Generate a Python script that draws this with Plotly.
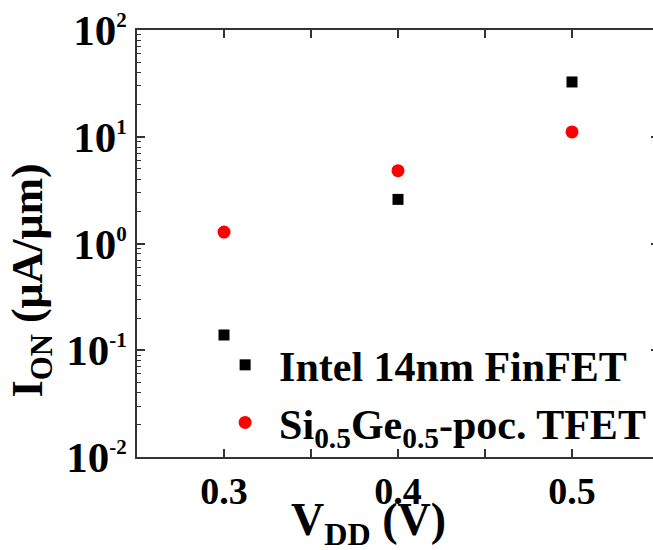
import plotly.graph_objects as go

vdd = [0.3, 0.4, 0.5]
intel_ion = [0.139, 2.59, 32.6]
tfet_ion = [1.28, 4.81, 11.1]

intel_name = "Intel 14nm FinFET"
tfet_name = "Si<sub>0.5</sub>Ge<sub>0.5</sub>-poc. TFET"

x_tickvals = [0.3, 0.35, 0.4, 0.45, 0.5]
x_ticktext = ["0.3", "", "0.4", "", "0.5"]
y_tickvals = [0.01, 0.1, 1, 10, 100]
y_exps = ["-2", "-1", "0", "1", "2"]
y_ticktext = ["10<sup><span style='font-size:21px'>%s</span></sup>" % e for e in y_exps]

FONT = "Liberation Serif"
AX = "#333333"

fig = go.Figure()
fig.add_trace(go.Scatter(x=vdd, y=intel_ion, mode="markers", name=intel_name,
                         marker=dict(symbol="square", size=11, color="black")))
fig.add_trace(go.Scatter(x=vdd, y=tfet_ion, mode="markers", name=tfet_name,
                         marker=dict(symbol="circle", size=13, color="#ff0000")))

W = 662
fig.update_layout(
    width=W, height=550,
    margin=dict(l=137, r=W - 661, t=30, b=93),
    plot_bgcolor="white", paper_bgcolor="white",
    font=dict(family=FONT, color="black"),
    showlegend=True,
    legend=dict(x=0.142, y=0.295, xanchor="left", yanchor="top",
                font=dict(family=FONT, size=42, color="black", weight="bold"),
                itemwidth=58, bgcolor="rgba(0,0,0,0)", tracegroupgap=0),
)
fig.update_xaxes(
    range=[0.25, 0.55], tickvals=x_tickvals, ticktext=x_ticktext,
    ticks="inside", ticklen=8, tickwidth=1.5, tickcolor=AX,
    showline=True, linecolor=AX, linewidth=1.5, mirror="ticks",
    showgrid=False, zeroline=False,
    tickfont=dict(family=FONT, size=38, color="black", weight="bold"),
)
fig.update_yaxes(
    type="log", range=[-2, 2], tickvals=y_tickvals, ticktext=y_ticktext,
    ticks="inside", ticklen=8, tickwidth=1.5, tickcolor=AX,
    minor=dict(ticks="inside", ticklen=4, tickwidth=1, tickcolor=AX, dtick="D1"),
    showline=True, linecolor=AX, linewidth=1.5, mirror="ticks",
    showgrid=False, zeroline=False,
    tickfont=dict(family=FONT, size=43, color="black", weight="bold"),
)
fig.add_annotation(text="V<sub>DD</sub> (V)", xref="paper", yref="paper",
                   x=(369 - 137) / 524, y=-(523 - 457) / 427, showarrow=False,
                   xanchor="center", yanchor="middle",
                   font=dict(family=FONT, size=46, color="black", weight="bold"))
fig.add_annotation(text="I<sub>ON</sub> (μA/μm)", xref="paper", yref="paper",
                   x=-(137 - 30) / 524, y=(457 - 280) / 427, showarrow=False,
                   textangle=-90, xanchor="center", yanchor="middle",
                   font=dict(family=FONT, size=44, color="black", weight="bold"))

fig.write_html("out.html")
